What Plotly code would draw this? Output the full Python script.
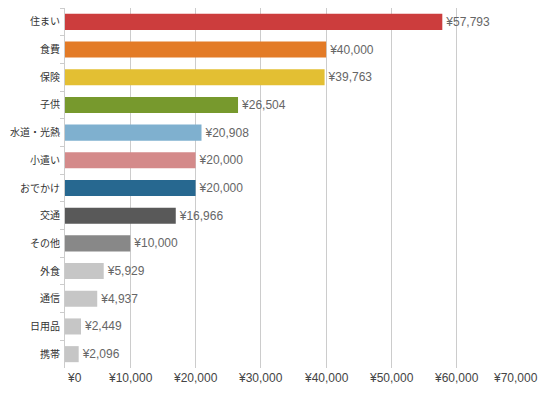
import plotly.graph_objects as go

categories = ["住まい", "食費", "保険", "子供", "水道・光熱", "小遣い", "おでかけ",
              "交通", "その他", "外食", "通信", "日用品", "携帯"]
values = [57793, 40000, 39763, 26504, 20908, 20000, 20000, 16966, 10000, 5929, 4937, 2449, 2096]
colors = ["#CC3D3D", "#E37B27", "#E3BF33", "#77992D", "#7FB0CF", "#D48A8A", "#276890",
          "#595959", "#888888", "#C6C6C6", "#C6C6C6", "#C6C6C6", "#C6C6C6"]
tick_vals = [0, 10000, 20000, 30000, 40000, 50000, 60000, 70000]
tick_text = ["¥" + f"{v:,}" for v in tick_vals]

fig = go.Figure(go.Bar(
    y=categories, x=values, orientation="h",
    marker=dict(color=colors, line=dict(width=0)),
    text=["¥" + f"{v:,}" for v in values],
    textposition="outside",
    textfont=dict(family="Liberation Sans, Arial", size=12, color="#666666"),
    cliponaxis=False,
))

annotations = []
for i, (v, t) in enumerate(zip(tick_vals, tick_text)):
    anchor = "left" if i == 0 else "center"
    shift = -7 if i == len(tick_vals) - 1 else 0
    annotations.append(dict(x=v, y=0, xref="x", yref="paper", text=t, showarrow=False,
                            xanchor=anchor, yanchor="top", yshift=-1, xshift=shift,
                            font=dict(family="Liberation Sans, Arial", size=12, color="#444444")))

# page has an 8px body margin, so the figure is sized/offset to compensate
fig.update_layout(
    width=538, height=385,
    margin=dict(l=57, r=24, t=0, b=25, autoexpand=False),
    paper_bgcolor="white", plot_bgcolor="white",
    bargap=0.42,
    showlegend=False,
    annotations=annotations,
    xaxis=dict(range=[0, 70000], tickvals=tick_vals, showticklabels=False,
               showgrid=True, gridcolor="#CCCCCC", gridwidth=1, zeroline=False,
               showline=False, ticks="", automargin=False),
    yaxis=dict(type="category", autorange="reversed", showline=True, linecolor="#CCCCCC",
               linewidth=1, ticks="outside", tickson="boundaries", ticklen=4,
               tickcolor="#CCCCCC", showgrid=False, ticklabelstandoff=2, automargin=False,
               tickfont=dict(family="Noto Sans CJK JP", size=10, color="#333333")),
)

fig.write_html("out.html")
